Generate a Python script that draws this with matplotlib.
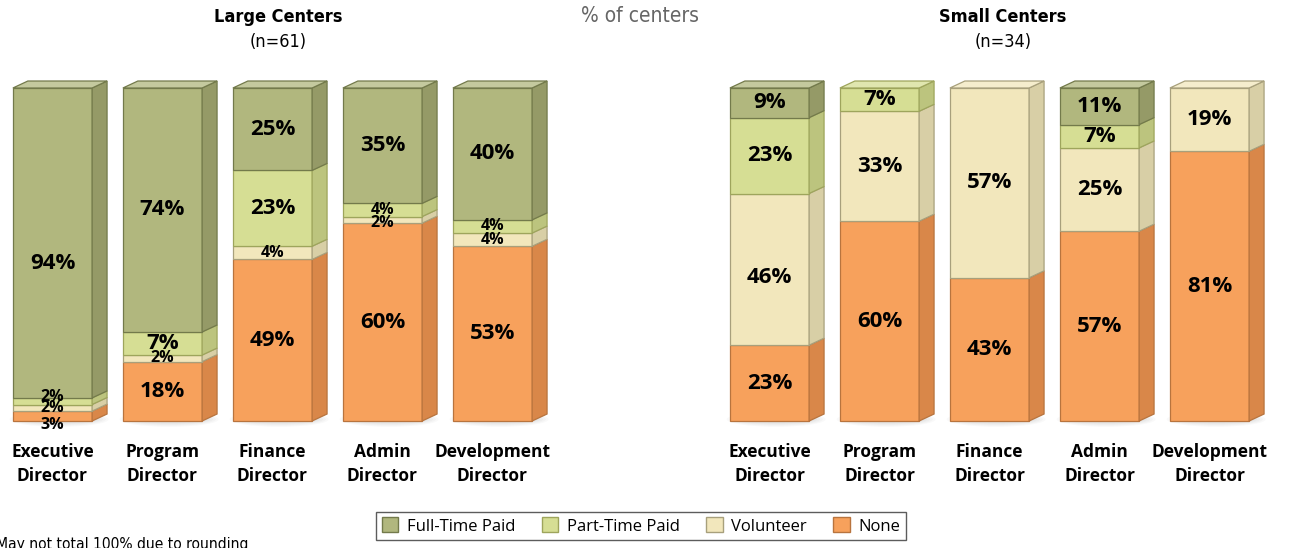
import matplotlib.pyplot as plt
from matplotlib.patches import Polygon, Rectangle, Patch, Ellipse
import matplotlib.colors as mcolors

cats = ['Executive\nDirector', 'Program\nDirector', 'Finance\nDirector',
        'Admin\nDirector', 'Development\nDirector']
series = ['None', 'Volunteer', 'Part-Time Paid', 'Full-Time Paid']  # bottom -> top

large_none = [3, 18, 49, 60, 53]
large_vol = [2, 2, 4, 2, 4]
large_part = [2, 7, 23, 4, 4]
large_full = [94, 74, 25, 35, 40]

small_none = [23, 60, 43, 57, 81]
small_vol = [46, 33, 57, 25, 19]
small_part = [23, 7, 0, 7, 0]
small_full = [9, 0, 0, 11, 0]

front = {'Full-Time Paid': '#b1b77e', 'Part-Time Paid': '#d6de94',
         'Volunteer': '#f2e7bc', 'None': '#f7a15c'}
side = {'Full-Time Paid': '#959a67', 'Part-Time Paid': '#bcc47e',
        'Volunteer': '#d8cfa6', 'None': '#d98749'}
edge = {'Full-Time Paid': '#737a4b', 'Part-Time Paid': '#9ea55c',
        'Volunteer': '#a8a07c', 'None': '#b8743e'}

# small manual shifts (in %) for crowded / offset labels
large_nudge = {(0, 'None'): -2.7, (0, 'Part-Time Paid'): 1.2, (3, 'Volunteer'): -1.0,
               (0, 'Full-Time Paid'): -6.3}
small_nudge = {(0, 'Volunteer'): -2.5}

plt.rcParams['font.family'] = ['Open Sans', 'DejaVu Sans']
narrow = dict(family=['DejaVu Sans'], fontstretch='condensed')

W, H = 1290, 548
fig = plt.figure(figsize=(W / 100, H / 100), dpi=100)

bw = 0.72
dx, dy = 0.136, 2.1


def lighten(c, f):
    r, g, b = mcolors.to_rgb(c)
    return (r + (1 - r) * f, g + (1 - g) * f, b + (1 - b) * f)


def panel(left_px, data, nudge):
    # bar spacing 110 px, y: 0 -> 421 px, 100 -> 88 px
    ax = fig.add_axes([left_px / W, (H - 421) / H, 572 / W, 333 / H])
    ax.set_xlim(-0.45, 4.75)
    ax.set_ylim(0, 100)
    ax.set_axis_off()
    for i in range(len(cats)):
        vals = [d[i] for d in data]
        tot = sum(vals)
        x0, x1 = i - bw / 2, i + bw / 2
        # soft shadow under the bar
        for k in range(6):
            ax.add_patch(Ellipse((i + 0.06, 0.5), bw * (1.25 - 0.07 * k), 4.5 - 0.6 * k,
                                 facecolor='#000000', alpha=0.025, lw=0, clip_on=False,
                                 zorder=0))
        base = 0
        last = None
        for s, v in zip(series, vals):
            if v == 0:
                continue
            h = v * 100 / tot
            ax.add_patch(Rectangle((x0, base), bw, h, facecolor=front[s],
                                   edgecolor=edge[s], lw=0.9, clip_on=False, zorder=2))
            ax.add_patch(Polygon([(x1, base), (x1 + dx, base + dy), (x1 + dx, base + h + dy),
                                  (x1, base + h)], facecolor=side[s], edgecolor=edge[s],
                                 lw=0.9, clip_on=False, zorder=2))
            fs = 16 if v >= 5 else 11.5
            ax.text(i, base + h / 2 + nudge.get((i, s), 0), f'{v}%', ha='center',
                    va='center', fontsize=fs, fontweight='bold', color='black', zorder=5)
            base += h
            last = s
        ax.add_patch(Polygon([(x0, base), (x0 + dx, base + dy), (x1 + dx, base + dy),
                              (x1, base)], facecolor=lighten(front[last], 0.25),
                             edgecolor=edge[last], lw=0.9, clip_on=False, zorder=2))
        ax.text(i, -0.065, cats[i], transform=ax.get_xaxis_transform(), ha='center',
                va='top', fontsize=12.5, fontweight='bold', linespacing=1.45)
    return ax


panel(3, [large_none, large_vol, large_part, large_full], large_nudge)
panel(720, [small_none, small_vol, small_part, small_full], small_nudge)

fig.text(278 / W, 1 - 17 / H, 'Large Centers', ha='center', va='center',
         fontsize=13, fontweight='bold', **narrow)
fig.text(278 / W, 1 - 42 / H, '(n=61)', ha='center', va='center',
         fontsize=13, **narrow)
fig.text(1003 / W, 1 - 17 / H, 'Small Centers', ha='center', va='center',
         fontsize=13, fontweight='bold', **narrow)
fig.text(1003 / W, 1 - 42 / H, '(n=34)', ha='center', va='center',
         fontsize=13, **narrow)
fig.text(640 / W, 1 - 16 / H, '% of centers', ha='center', va='center',
         fontsize=15, color='#666666', **narrow)
fig.text(-4 / W, 1 - 545 / H, 'May not total 100% due to rounding', ha='left',
         va='center', fontsize=11.2, **narrow)

handles = [Patch(facecolor=front[s], edgecolor=edge[s]) for s in series[::-1]]
leg = fig.legend(handles, series[::-1], loc='center', bbox_to_anchor=(641 / W, 1 - 526 / H),
                 ncol=4, frameon=True, fancybox=False, fontsize=12, handlelength=1.0,
                 handleheight=1.0, columnspacing=1.6, handletextpad=0.5,
                 borderpad=0.35)
leg.get_frame().set_edgecolor('#333333')
leg.get_frame().set_linewidth(1.0)

fig.savefig('out.png', dpi=100)
